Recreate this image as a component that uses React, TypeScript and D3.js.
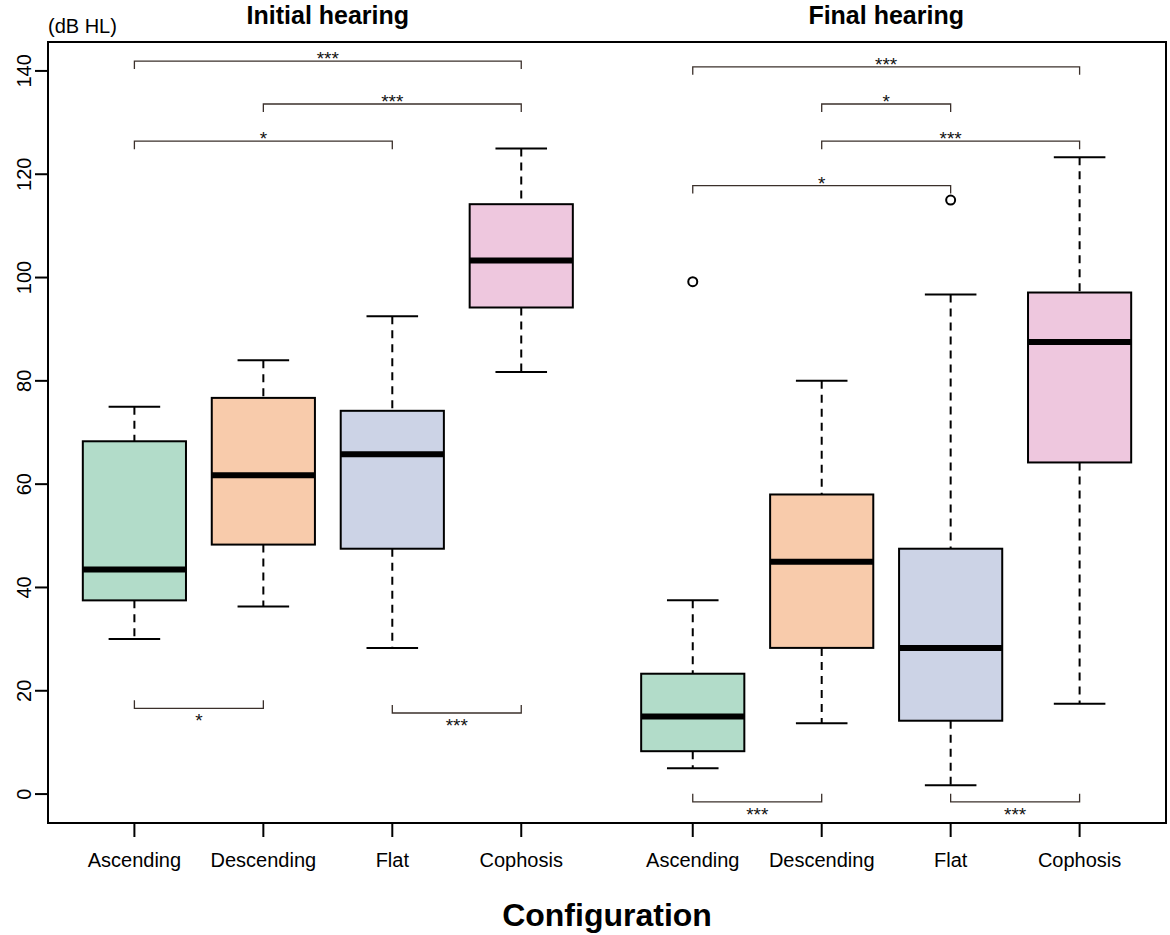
import React, { useEffect } from 'react';
import * as d3 from 'd3';

// box order: Initial (4 configs) then Final (4 configs)
const configs = ['Ascending', 'Descending', 'Flat', 'Cophosis'];
const groupTitles = ['Initial hearing', 'Final hearing'];
const positions = [1, 2, 3, 4, 5.33, 6.33, 7.33, 8.33];
const fills = ['#b2dcc9', '#f8cbab', '#ccd3e6', '#eec7de'];

const lowerWhisker = [30, 36.3, 28.3, 81.7, 5, 13.7, 1.7, 17.5];
const q1 = [37.5, 48.3, 47.5, 94.2, 8.3, 28.3, 14.2, 64.2];
const median = [43.5, 61.7, 65.8, 103.3, 15, 45, 28.3, 87.5];
const q3 = [68.3, 76.7, 74.2, 114.2, 23.3, 58, 47.5, 97.1];
const upperWhisker = [75, 84, 92.5, 125, 37.5, 80, 96.7, 123.3];
const outliers = [
  { box: 4, value: 99.2 },
  { box: 6, value: 115 },
];

const yTicks = [0, 20, 40, 60, 80, 100, 120, 140];

// significance brackets: box indices, height, label, which side the arms point
const brackets = [
  { from: 0, to: 3, at: 141.9, label: '***', side: 'top' },
  { from: 1, to: 3, at: 133.6, label: '***', side: 'top' },
  { from: 0, to: 2, at: 126.4, label: '*', side: 'top' },
  { from: 0, to: 1, at: 16.6, label: '*', side: 'bottom' },
  { from: 2, to: 3, at: 15.7, label: '***', side: 'bottom' },
  { from: 4, to: 7, at: 140.8, label: '***', side: 'top' },
  { from: 5, to: 6, at: 133.6, label: '*', side: 'top' },
  { from: 5, to: 7, at: 126.4, label: '***', side: 'top' },
  { from: 4, to: 6, at: 117.8, label: '*', side: 'top' },
  { from: 4, to: 5, at: -1.5, label: '***', side: 'bottom' },
  { from: 6, to: 7, at: -1.5, label: '***', side: 'bottom' },
];

const W = 1170;
const H = 935;
const frame = { left: 48, right: 1166, top: 42, bottom: 823 };
const font = '"Liberation Sans", Arial, sans-serif';

const App = () => {
  useEffect(() => {
    document.body.style.margin = '0';
  }, []);

  const x = d3.scaleLinear().domain([0.33, 9.0]).range([frame.left, frame.right]);
  const y = d3.scaleLinear().domain([-5.6, 145.6]).range([frame.bottom, frame.top]);
  const unit = x(1) - x(0);
  const boxW = 0.8 * unit;
  const capW = boxW / 2;

  return (
    <svg width={W} height={H} style={{ display: 'block', fontFamily: font }}>
      <rect width={W} height={H} fill="#fff" />

      {/* boxes */}
      {positions.map((p, i) => {
        const cx = x(p);
        return (
          <g key={i}>
            <line x1={cx} x2={cx} y1={y(upperWhisker[i])} y2={y(q3[i])}
              stroke="#000" strokeWidth={2} strokeDasharray="8,6" />
            <line x1={cx} x2={cx} y1={y(q1[i])} y2={y(lowerWhisker[i])}
              stroke="#000" strokeWidth={2} strokeDasharray="8,6" />
            <line x1={cx - capW / 2} x2={cx + capW / 2} y1={y(upperWhisker[i])} y2={y(upperWhisker[i])}
              stroke="#000" strokeWidth={2} />
            <line x1={cx - capW / 2} x2={cx + capW / 2} y1={y(lowerWhisker[i])} y2={y(lowerWhisker[i])}
              stroke="#000" strokeWidth={2} />
            <rect x={cx - boxW / 2} y={y(q3[i])} width={boxW} height={y(q1[i]) - y(q3[i])}
              fill={fills[i % 4]} stroke="#000" strokeWidth={2} />
            <line x1={cx - boxW / 2} x2={cx + boxW / 2} y1={y(median[i])} y2={y(median[i])}
              stroke="#000" strokeWidth={6} />
          </g>
        );
      })}

      {outliers.map((o, i) => (
        <circle key={i} cx={x(positions[o.box])} cy={y(o.value)} r={4.5}
          fill="none" stroke="#000" strokeWidth={2} />
      ))}

      {/* brackets */}
      {brackets.map((b, i) => {
        const x1 = x(positions[b.from]);
        const x2 = x(positions[b.to]);
        const yy = y(b.at);
        const arm = b.side === 'top' ? 8 : -8;
        return (
          <g key={i}>
            <path d={`M${x1},${yy + arm}V${yy}H${x2}V${yy + arm}`} fill="none"
              stroke="#3b302b" strokeWidth={1.3} />
            <text x={(x1 + x2) / 2} y={b.side === 'top' ? yy + 4 : yy + 19}
              textAnchor="middle" fontSize={19} fill="#111">{b.label}</text>
          </g>
        );
      })}

      {/* frame */}
      <rect x={frame.left} y={frame.top} width={frame.right - frame.left}
        height={frame.bottom - frame.top} fill="none" stroke="#000" strokeWidth={2} />

      {/* y axis */}
      {yTicks.map((t) => (
        <g key={t}>
          <line x1={frame.left - 13} x2={frame.left} y1={y(t)} y2={y(t)} stroke="#000" strokeWidth={2} />
          <text transform={`translate(31,${y(t)}) rotate(-90)`}
            textAnchor="middle" fontSize={20} fill="#000">{t}</text>
        </g>
      ))}
      <text x={48} y={33} fontSize={20} fill="#000">(dB HL)</text>

      {/* x axis */}
      {positions.map((p, i) => (
        <g key={i}>
          <line x1={x(p)} x2={x(p)} y1={frame.bottom} y2={frame.bottom + 14} stroke="#000" strokeWidth={2} />
          <text x={x(p)} y={867} textAnchor="middle" fontSize={20} fill="#000">{configs[i % 4]}</text>
        </g>
      ))}

      {groupTitles.map((t, g) => (
        <text key={t} x={x((positions[g * 4 + 1] + positions[g * 4 + 2]) / 2)} y={24}
          textAnchor="middle" fontSize={25} fontWeight="bold" fill="#000">{t}</text>
      ))}
      <text x={(frame.left + frame.right) / 2} y={926} textAnchor="middle" fontSize={32}
        fontWeight="bold" fill="#000">Configuration</text>
    </svg>
  );
};

export default App;
